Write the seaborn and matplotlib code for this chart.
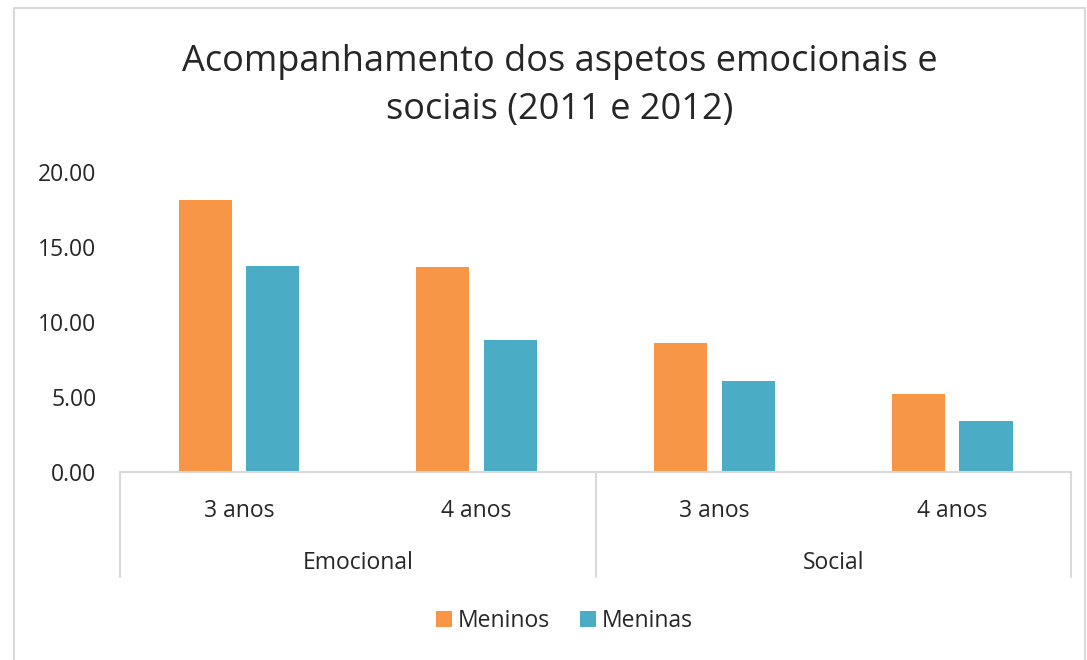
import matplotlib
matplotlib.use("Agg")
import matplotlib.pyplot as plt
import matplotlib.transforms as mtransforms
from matplotlib.patches import Rectangle
from matplotlib.ticker import FormatStrFormatter
import seaborn as sns
import pandas as pd

# data
groups = ["Emocional", "Emocional", "Social", "Social"]
ages = ["3 anos", "4 anos", "3 anos", "4 anos"]
meninos = [18.10, 13.65, 8.56, 5.16]
meninas = [13.73, 8.76, 6.03, 3.39]
series_names = ["Meninos", "Meninas"]
colors = ["#F79646", "#4BACC6"]
title = "Acompanhamento dos aspetos emocionais e\nsociais (2011 e 2012)"

cats = [f"{g}|{a}" for g, a in zip(groups, ages)]
df = pd.DataFrame({
    "cat": cats * 2,
    "valor": meninos + meninas,
    "sexo": [series_names[0]] * 4 + [series_names[1]] * 4,
})

sns.set_style("white")
plt.rcParams["font.family"] = ["Open Sans", "DejaVu Sans"]
TXT = "#262626"
FS = 16.5

fig = plt.figure(figsize=(10.87, 6.6), dpi=100)
ax = fig.add_axes([0.1104, 0.2856, 0.875, 0.4538])

sns.barplot(data=df, x="cat", y="valor", hue="sexo", order=cats,
            hue_order=series_names, palette=colors, width=0.568, gap=0.215,
            saturation=1, edgecolor="none", ax=ax, legend=True)

ax.set_ylim(0, 20)
ax.set_xlim(-0.5, len(cats) - 0.5)
ax.set_yticks([0, 5, 10, 15, 20])
ax.yaxis.set_major_formatter(FormatStrFormatter("%.2f"))
ax.tick_params(axis="y", length=0, labelsize=FS, colors=TXT, pad=17)
ax.set_xticks([])
ax.set_xlabel("")
ax.set_ylabel("")
for side in ["left", "right", "top"]:
    ax.spines[side].set_visible(False)
ax.spines["bottom"].set_color("#d9d9d9")
ax.spines["bottom"].set_linewidth(1.5)

# two-level category axis
trans = mtransforms.blended_transform_factory(ax.transData, ax.transAxes)
for i, a in enumerate(ages):
    ax.text(i, -0.132, a, transform=trans, ha="center", va="center",
            fontsize=FS, color=TXT)
for g in dict.fromkeys(groups):
    idx = [i for i, x in enumerate(groups) if x == g]
    mid = (idx[0] + idx[-1]) / 2
    ax.text(mid, -0.306, g, transform=trans, ha="center", va="center",
            fontsize=FS, color=TXT)
for xb in [-0.5, 1.5, 3.5]:
    ax.plot([xb, xb], [0, -0.352], transform=trans, color="#d9d9d9",
            lw=1.5, clip_on=False)

handles, labels = ax.get_legend_handles_labels()
ax.legend(handles, labels, loc="center", bbox_to_anchor=(0.519, 0.059),
          bbox_transform=fig.transFigure, ncol=2, frameon=False,
          fontsize=FS, handlelength=0.7, handleheight=0.7,
          handletextpad=0.25, columnspacing=1.3, labelcolor=TXT)

fig.text(0.515, 0.870, title, ha="center", va="center", fontsize=26,
         color=TXT, linespacing=1.45)

fig.patches.append(Rectangle((0.013, -0.1), 0.985, 1.088, transform=fig.transFigure,
                             fill=False, edgecolor="#d9d9d9", lw=1.5))

fig.savefig("out.png", dpi=100)
